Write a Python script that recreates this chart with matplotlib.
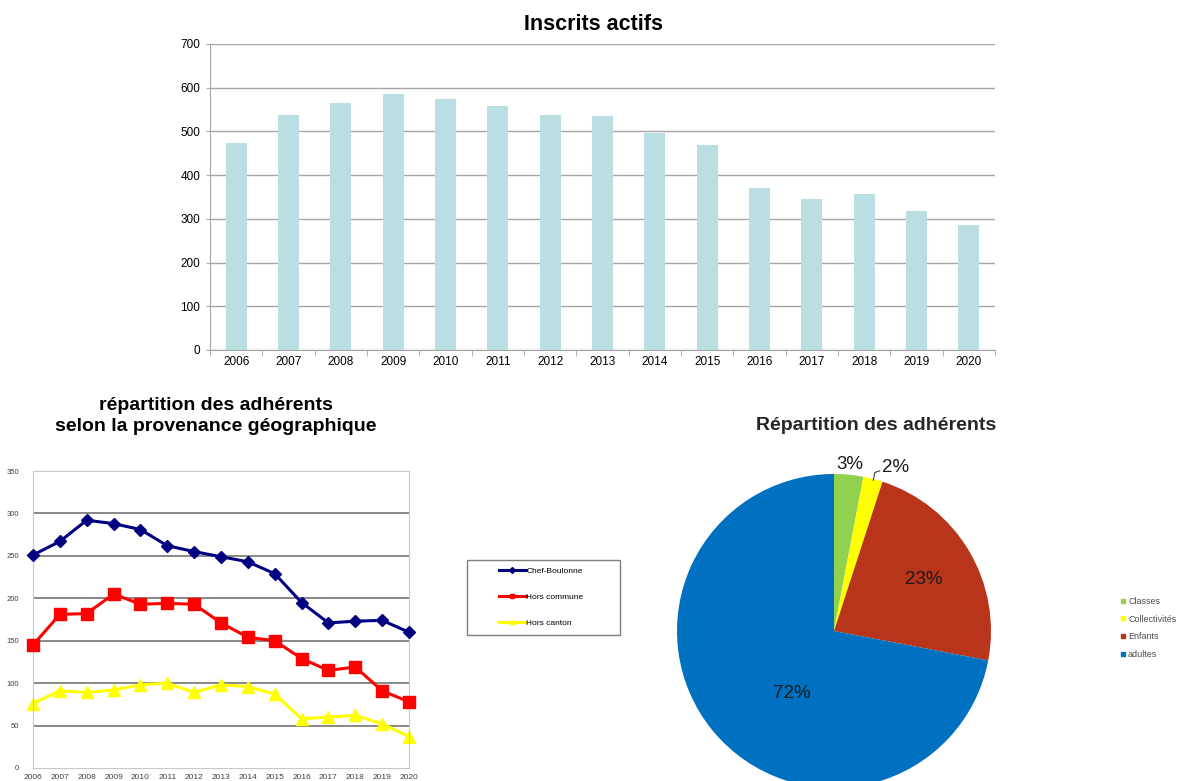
import numpy as np
import matplotlib
matplotlib.use("Agg")
import matplotlib.pyplot as plt
from matplotlib.lines import Line2D
from matplotlib.patches import Rectangle

plt.rcParams['font.family'] = ['Liberation Sans', 'DejaVu Sans']

# inscrits actifs
annees = [2006, 2007, 2008, 2009, 2010, 2011, 2012, 2013, 2014, 2015,
          2016, 2017, 2018, 2019, 2020]
inscrits = [474, 538, 566, 586, 575, 558, 538, 536, 497, 468,
            371, 346, 356, 319, 286]

# provenance geographique
chef_boulonne = [251, 267, 292, 288, 281, 262, 255, 249, 243, 229,
                 195, 171, 173, 174, 160]
hors_commune = [145, 181, 182, 205, 193, 194, 193, 171, 154, 150,
                129, 115, 119, 91, 78]
hors_canton = [76, 91, 89, 92, 98, 100, 89, 98, 96, 87,
               58, 60, 62, 52, 37]

# repartition des adherents
categories = ['Classes', 'Collectivités', 'Enfants', 'adultes']
parts = [3, 2, 23, 72]
couleurs_pie = ['#92D050', '#FFFF00', '#B8341B', '#0070C0']

W, H = 1188, 781
fig = plt.figure(figsize=(W / 100, H / 100), dpi=100)

def fbox(x0, y0, x1, y1):
    # pixels (haut-gauche) -> coordonnees figure
    return [x0 / W, 1 - y1 / H, (x1 - x0) / W, (y1 - y0) / H]

# ---------- histogramme ----------
ax1 = fig.add_axes(fbox(210, 44, 995, 350))
x = np.arange(len(annees))
ax1.bar(x, inscrits, width=0.4, color='#B9DFE2', zorder=2)
ax1.set_xlim(-0.5, len(annees) - 0.5)
ax1.set_ylim(0, 700)
ax1.set_yticks(range(0, 701, 100))
ax1.set_xticks(x)
ax1.set_xticklabels([str(a) for a in annees])
ax1.set_xticks(np.arange(-0.5, len(annees), 1), minor=True)
ax1.tick_params(axis='x', which='major', length=0, labelsize=8.5, pad=4)
ax1.tick_params(axis='x', which='minor', length=4, color='#A6A6A6')
ax1.tick_params(axis='y', length=3, color='#A6A6A6', labelsize=8.5, pad=4)
ax1.yaxis.grid(True, color='#A6A6A6', lw=1, zorder=0)
ax1.set_axisbelow(True)
for s in ['top', 'right']:
    ax1.spines[s].set_visible(False)
for s in ['left', 'bottom']:
    ax1.spines[s].set_color('#A6A6A6')
fig.text(594 / W, 1 - 25 / H, 'Inscrits actifs', ha='center', va='center',
         fontsize=15.5, fontweight='bold')

# ---------- courbes ----------
ax2 = fig.add_axes(fbox(33, 471, 409, 768))
ax2.plot(annees, chef_boulonne, color='#000080', lw=2.2, marker='D', ms=6,
         label='Chef-Boulonne', clip_on=False, zorder=4)
ax2.plot(annees, hors_commune, color='#FF0000', lw=2.2, marker='s', ms=8,
         label='Hors commune', clip_on=False, zorder=3)
ax2.plot(annees, hors_canton, color='#FFFF00', lw=2.2, marker='^', ms=8,
         label='Hors canton', clip_on=False, zorder=2)
ax2.set_xlim(2006, 2020)
ax2.set_ylim(0, 350)
ax2.set_yticks(range(0, 351, 50))
ax2.set_xticks(annees)
ax2.tick_params(axis='both', length=0, labelsize=5.5, colors='#404040')
ax2.tick_params(axis='x', pad=4, labelsize=6)
ax2.tick_params(axis='y', pad=10)
for v in range(50, 301, 50):
    ax2.axhline(v, color='#7F7F7F', lw=1.3, zorder=1)
for s in ax2.spines.values():
    s.set_color('#C8C8C8')
fig.text(216 / W, 1 - 416 / H,
         'répartition des adhérents\nselon la provenance géographique',
         ha='center', va='center', fontsize=14, fontweight='bold',
         linespacing=1.35)

# legende encadree
fig.patches.append(Rectangle((467 / W, 1 - 635 / H), 153 / W, 75 / H,
                             transform=fig.transFigure, fill=False,
                             edgecolor='#7F7F7F', lw=1))
h_lignes = [Line2D([], [], color=c, lw=2.2, marker=m, ms=3)
            for c, m in [('#000080', 'D'), ('#FF0000', 's'), ('#FFFF00', '^')]]
fig.legend(h_lignes, ['Chef-Boulonne', 'Hors commune', 'Hors canton'],
           loc='upper left', bbox_to_anchor=(499 / W, 1 - 567 / H),
           frameon=False, fontsize=6, handlelength=3.2, handletextpad=0.1,
           labelspacing=2.2, borderaxespad=0, borderpad=0)

# ---------- camembert ----------
r = 157
ax3 = fig.add_axes(fbox(834 - r, 631 - r, 834 + r, 631 + r))
wedges, _ = ax3.pie(parts, colors=couleurs_pie, startangle=90,
                    counterclock=False, radius=1,
                    wedgeprops=dict(linewidth=0))
ax3.set_xlim(-1, 1)
ax3.set_ylim(-1, 1)
ax3.set_aspect('auto')
ax3.axis('off')

positions = [(0.10, 1.06), (0.39, 1.04), (0.57, 0.33), (-0.27, -0.40)]
for (px, py), p in zip(positions, parts):
    ax3.text(px, py, f'{p}%', ha='center', va='center', fontsize=13.5,
             color='#1A1A1A', clip_on=False)
ax3.plot([0.25, 0.26, 0.29], [0.96, 1.01, 1.02], color='#404040', lw=0.8,
         clip_on=False)

fig.text(876 / W, 1 - 426 / H, 'Répartition des adhérents', ha='center',
         va='center', fontsize=14, fontweight='bold', color='#262626')

h_pie = [Line2D([], [], color=c, marker='s', ms=3.5, lw=0)
         for c in couleurs_pie]
fig.legend(h_pie, categories, loc='upper left',
           bbox_to_anchor=(1120 / W, 1 - 597 / H), frameon=False,
           fontsize=6.5, handlelength=0.6, handletextpad=0.3,
           labelspacing=0.95, borderaxespad=0, borderpad=0,
           labelcolor='#4D4D4D')

fig.savefig('out.png', dpi=100)
